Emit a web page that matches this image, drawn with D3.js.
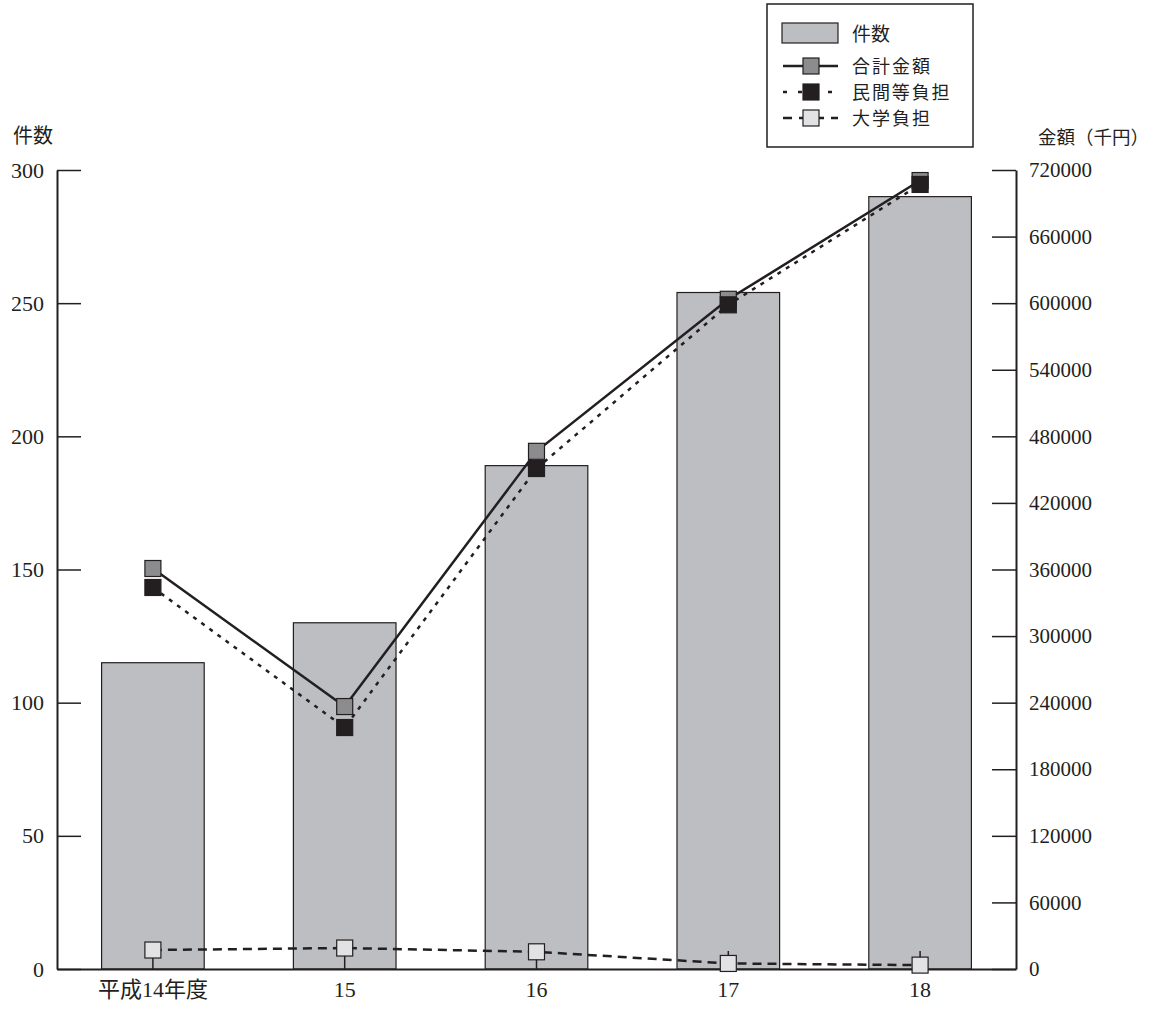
<!DOCTYPE html>
<html>
<head>
<meta charset="utf-8">
<script src="https://cdn.jsdelivr.net/npm/d3@7"></script>
<style>
  html, body { margin: 0; padding: 0; background: #fff; }
  svg text { fill: #231f20; }
</style>
</head>
<body>
<div id="chart"></div>
<script>
// 年度別の共同研究等の件数と金額（千円）
const years = ["平成14年度", "15", "16", "17", "18"];
const counts = [115, 130, 189, 254, 290];
const totalAmount = [360900, 236500, 466500, 603500, 710500];   // 合計金額
const privateShare = [343800, 217600, 451000, 598500, 707000];  // 民間等負担
const univShare = [17100, 18900, 15500, 5000, 3500];            // 大学負担
const countTicks = [0, 50, 100, 150, 200, 250, 300];
const amountTicks = [0, 60000, 120000, 180000, 240000, 300000, 360000, 420000, 480000, 540000, 600000, 660000, 720000];

const W = 1151, H = 1010;
const plotL = 57, plotR = 1016, plotT = 170, plotB = 969;
const ink = "#231f20";
const numFont = "'Liberation Serif', 'Noto Sans CJK JP', serif";
const jpFont = "'Noto Sans CJK JP', sans-serif";

const svg = d3.select("#chart").append("svg")
  .attr("width", W).attr("height", H)
  .style("display", "block");

const x = d3.scaleBand().domain(years).range([plotL, plotR]).padding(0);
const yCount = d3.scaleLinear().domain([0, 300]).range([plotB, plotT]);
const yAmount = d3.scaleLinear().domain([0, 720000]).range([plotB, plotT]);
const cx = d => x(d) + x.bandwidth() / 2;

// 件数の棒
const barW = x.bandwidth() * 0.535;
svg.append("g").selectAll("rect").data(years).join("rect")
  .attr("x", (d) => cx(d) - barW / 2)
  .attr("y", (d, i) => yCount(counts[i]))
  .attr("width", barW)
  .attr("height", (d, i) => plotB - yCount(counts[i]))
  .attr("fill", "#bdbec2")
  .attr("stroke", ink)
  .attr("stroke-width", 1.2);

// 軸
function styleAxis(g) {
  g.select(".domain").attr("stroke", ink).attr("stroke-width", 2);
  g.selectAll(".tick line").attr("stroke", ink).attr("stroke-width", 1.5);
  g.selectAll(".tick text").attr("fill", ink);
}

svg.append("g")
  .attr("transform", `translate(${plotL},0)`)
  .call(d3.axisLeft(yCount).tickValues(countTicks).tickSize(-24).tickSizeOuter(0).tickPadding(13))
  .call(g => g.selectAll("text").style("font-family", numFont).style("font-size", "22px"))
  .call(styleAxis);

svg.append("g")
  .attr("transform", `translate(${plotR},0)`)
  .call(d3.axisRight(yAmount).tickValues(amountTicks).tickSize(-24).tickSizeOuter(0).tickPadding(13)
    .tickFormat(d3.format("d")))
  .call(g => g.selectAll("text").style("font-family", numFont).style("font-size", "21px"))
  .call(styleAxis);

const xAxis = d3.axisBottom(x).tickSize(-18).tickSizeOuter(0).tickPadding(12);
svg.append("g")
  .attr("transform", `translate(0,${plotB})`)
  .call(xAxis)
  .call(g => g.selectAll("text").style("font-family", numFont).style("font-size", "22px"))
  .call(styleAxis);

// 軸タイトル
svg.append("text").attr("x", 13).attr("y", 143)
  .style("font-family", jpFont).style("font-size", "20px").text("件数");
svg.append("text").attr("x", 1149).attr("y", 144).attr("text-anchor", "end")
  .style("font-family", jpFont).style("font-size", "18.5px")
  .text("金額（千円）");

// 金額の折れ線
const series = [
  { name: "合計金額", values: totalAmount, dash: null, fill: "#8c8c8e" },
  { name: "民間等負担", values: privateShare, dash: "4,6", fill: "#231f20" },
  { name: "大学負担", values: univShare, dash: "9,6", fill: "#e2e2e4" }
];
const line = d3.line().x((d, i) => cx(years[i])).y(d => yAmount(d));

svg.append("g").selectAll("path").data(series).join("path")
  .attr("d", s => line(s.values))
  .attr("fill", "none")
  .attr("stroke", ink)
  .attr("stroke-width", 2.5)
  .attr("stroke-dasharray", s => s.dash);

const mk = 16;
series.forEach(s => {
  svg.append("g").selectAll("rect").data(s.values).join("rect")
    .attr("x", (d, i) => cx(years[i]) - mk / 2)
    .attr("y", d => yAmount(d) - mk / 2)
    .attr("width", mk).attr("height", mk)
    .attr("fill", s.fill)
    .attr("stroke", ink)
    .attr("stroke-width", 1.2);
});

// 凡例
const lg = svg.append("g");
lg.append("rect").attr("x", 767).attr("y", 4).attr("width", 206).attr("height", 143)
  .attr("fill", "#fff").attr("stroke", ink).attr("stroke-width", 1.5);
lg.append("rect").attr("x", 782).attr("y", 23).attr("width", 56).attr("height", 20)
  .attr("fill", "#bdbec2").attr("stroke", ink).attr("stroke-width", 1.2);
lg.append("text").attr("x", 852).attr("y", 41)
  .style("font-family", jpFont).style("font-size", "19px").text("件数");

const legendDash = [null, "4,11", "9,7"];
series.forEach((s, i) => {
  const yy = 66 + i * 26;
  lg.append("line").attr("x1", 783).attr("x2", 838).attr("y1", yy).attr("y2", yy)
    .attr("stroke", ink).attr("stroke-width", 2.5).attr("stroke-dasharray", legendDash[i]);
  lg.append("rect").attr("x", 811 - mk / 2).attr("y", yy - mk / 2).attr("width", mk).attr("height", mk)
    .attr("fill", s.fill).attr("stroke", ink).attr("stroke-width", 1.2);
  lg.append("text").attr("x", 852).attr("y", yy + 6.5)
    .style("font-family", jpFont).style("font-size", "18px")
    .attr("textLength", 19.5 * s.name.length).attr("lengthAdjust", "spacing")
    .text(s.name);
});
</script>
</body>
</html>
